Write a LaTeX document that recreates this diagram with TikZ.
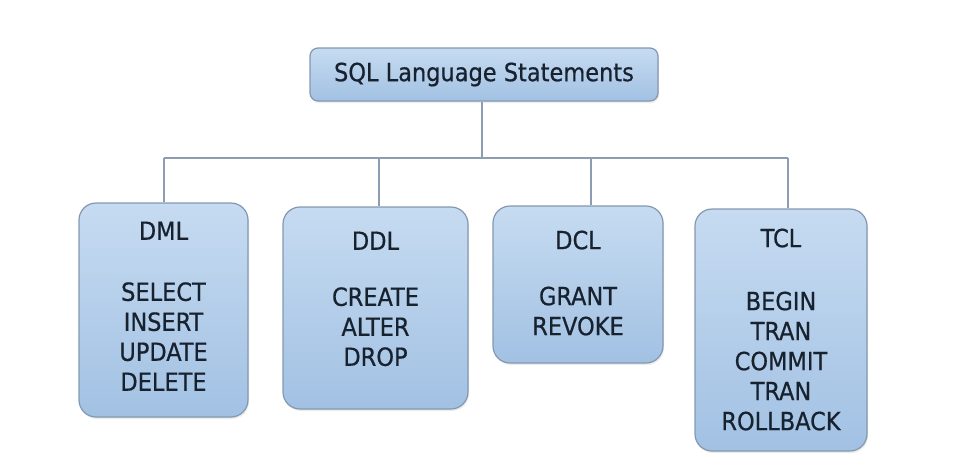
\documentclass[tikz,border=0pt]{standalone}
\usepackage{fontspec}
\setsansfont[FakeBold=0.6]{DejaVu Sans Condensed}
\usetikzlibrary{positioning,shadows}
\definecolor{boxtop}{HTML}{C6DBF1}
\definecolor{boxbot}{HTML}{A2C1E3}
\definecolor{boxline}{HTML}{8398B0}
\definecolor{linkcol}{HTML}{8D9CB3}
\definecolor{sqlink}{HTML}{18222F}

\begin{document}
\begin{tikzpicture}[x=1pt, y=-1pt,
	every node/.style={font=\sffamily\fontsize{25}{30}\selectfont, text=sqlink},
	sqlbox/.style={draw=boxline, line width=1.2pt, top color=boxtop, bottom color=boxbot,
		rounded corners=17pt, inner sep=0pt,
		drop shadow={opacity=0.15, shadow xshift=1pt, shadow yshift=-2pt}},
	sqltext/.style={align=center, inner sep=0pt},
	link/.style={draw=linkcol, line width=2pt}]
	\useasboundingbox (0,0) rectangle (964,467);
	% root
	\node[sqlbox, rounded corners=8pt, minimum width=348pt, minimum height=53pt] (sql) at (484,74.5) {SQL Language Statements};
	% statement groups
	\node[sqlbox, minimum width=169pt, minimum height=214pt] (dml) at (163.5,310) {};
	\node[sqlbox, minimum width=185pt, minimum height=202pt] (ddl) at (375.5,308) {};
	\node[sqlbox, minimum width=170pt, minimum height=157pt] (dcl) at (578,284.5) {};
	\node[sqlbox, minimum width=172pt, minimum height=242pt] (tcl) at (781,330) {};
	\node[sqltext, below=19pt of dml.north] (dmltext) {DML\\[31pt]SELECT\\INSERT\\UPDATE\\DELETE};
	\node[sqltext, below=25pt of ddl.north] (ddltext) {DDL\\[26pt]CREATE\\ALTER\\DROP};
	\node[sqltext, below=25pt of dcl.north] (dcltext) {DCL\\[26pt]GRANT\\REVOKE};
	\node[sqltext, below=20pt of tcl.north] (tcltext) {TCL\\[33pt]BEGIN\\TRAN\\COMMIT\\TRAN\\ROLLBACK};
	% connectors
	\coordinate (bus) at (482,158);
	\draw[link] (sql.south -| bus) -- (bus);
	\foreach \cat/\bx in {dml/164, ddl/379, dcl/591, tcl/788} {
		\coordinate (\cat bus) at (\bx,158);
		\draw[link] (\cat bus) -- (\cat bus |- \cat.north);
	}
	\draw[link] (dmlbus) -- (tclbus);
\end{tikzpicture}
\end{document}
